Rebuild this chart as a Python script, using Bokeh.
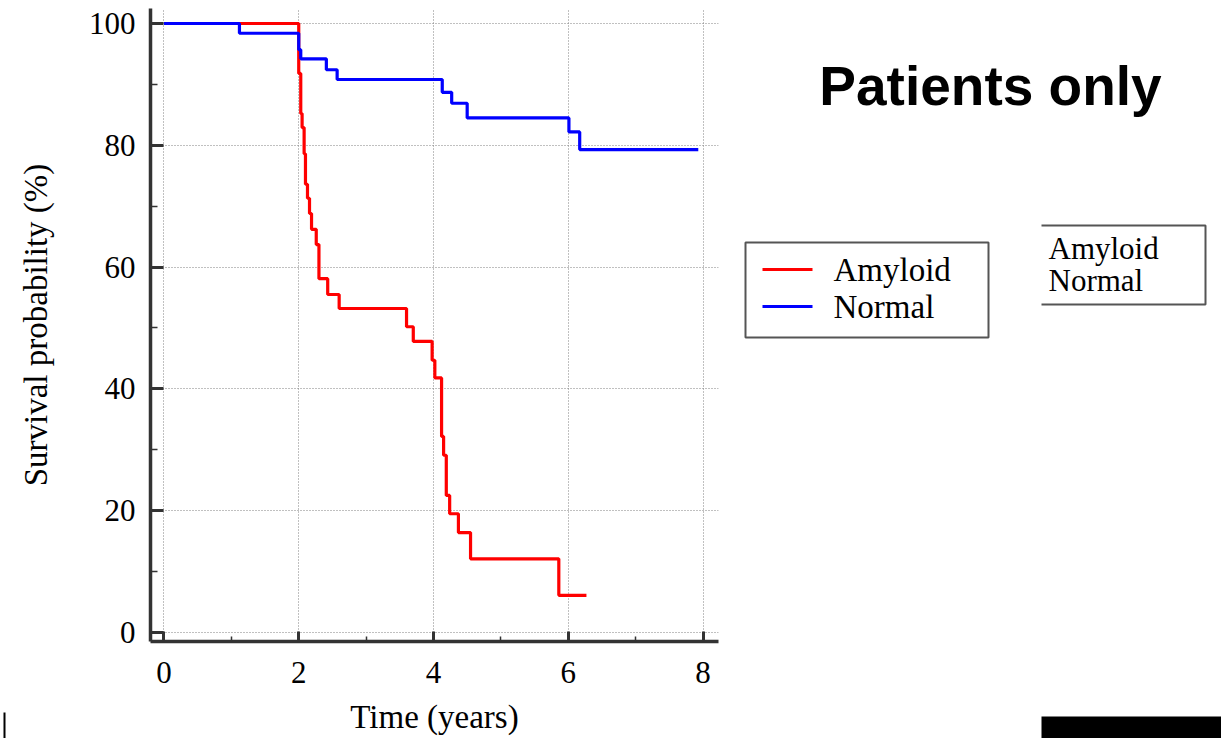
from bokeh.plotting import figure
from bokeh.layouts import row
from bokeh.models import Range1d, FixedTicker
from bokeh.core.properties import value
from bokeh.embed import file_html
from bokeh.resources import INLINE

# ---- data ----
amyloid_t = [0, 2.00, 2.03, 2.05, 2.08, 2.10, 2.13, 2.16, 2.19, 2.26, 2.30, 2.43, 2.60,
             3.60, 3.70, 3.98, 4.02, 4.12, 4.15, 4.19, 4.24, 4.37, 4.55, 5.86, 6.27]
amyloid_s = [100, 91.8, 85.2, 82.9, 78.6, 73.6, 71.3, 68.8, 66.2, 63.7, 58.1, 55.5, 53.2,
             50.2, 47.8, 44.7, 41.8, 32.2, 29.1, 22.5, 19.5, 16.4, 12.1, 6.1, 6.1]
normal_t = [0, 1.12, 2.00, 2.03, 2.41, 2.57, 4.13, 4.27, 4.50, 6.01, 6.17, 7.93]
normal_s = [100, 98.4, 95.7, 94.2, 92.4, 90.8, 88.7, 86.9, 84.5, 82.2, 79.3, 79.3]

x_ticks = [0, 2, 4, 6, 8]
x_minor = [1, 3, 5, 7]
y_ticks = [0, 20, 40, 60, 80, 100]
y_minor = [10, 30, 50, 70, 90]

series_names = ["Amyloid", "Normal"]
series_colors = ["#ff0000", "#0000ff"]
title_text = "Patients only"

SERIF = "Liberation Serif"
SANS = "Liberation Sans"


def blank_panel(width, x0, x1):
    f = figure(width=width, height=738, output_backend="svg", toolbar_location=None,
               x_range=Range1d(x0, x1), y_range=Range1d(738, 0),
               min_border=0, min_border_left=0, min_border_right=0,
               min_border_top=0, min_border_bottom=0)
    f.axis.visible = False
    f.grid.visible = False
    f.outline_line_color = None
    f.background_fill_color = "white"
    f.border_fill_color = "white"
    f.frame_align = False
    return f


# ---------------- thin strip at the far left (page pixels) ----------------
s = blank_panel(8, 0, 8)
s.quad(left=[3], right=[5], top=[712], bottom=[738], fill_color="black", line_color=None)

# ---------------- main chart ----------------
p = figure(width=722, height=738, output_backend="svg", toolbar_location=None,
           x_range=Range1d(-0.2, 8.23), y_range=Range1d(-1.48, 102.46),
           min_border_left=142, min_border_right=12, min_border_top=8, min_border_bottom=97)
p.outline_line_color = None
p.background_fill_color = "white"
p.border_fill_color = "white"
p.frame_align = False

for ax in (p.xaxis[0], p.yaxis[0]):
    ax.axis_line_color = "#333333"
    ax.axis_line_width = 3.5
    ax.major_tick_line_color = "#333333"
    ax.major_tick_line_width = 3
    ax.minor_tick_line_color = "#333333"
    ax.minor_tick_line_width = 1.5
    ax.major_tick_out = 0
    ax.minor_tick_out = 0
    ax.major_label_text_font = SERIF
    ax.major_label_text_font_size = "31px"
    ax.major_label_text_color = "black"
    ax.axis_label_text_font = SERIF
    ax.axis_label_text_font_size = "33px"
    ax.axis_label_text_font_style = "normal"
    ax.axis_label_text_color = "black"

p.xaxis.ticker = FixedTicker(ticks=x_ticks, minor_ticks=x_minor)
p.yaxis.ticker = FixedTicker(ticks=y_ticks, minor_ticks=y_minor)
p.xaxis.major_tick_in = 10
p.xaxis.minor_tick_in = 5
p.yaxis.major_tick_in = 13
p.yaxis.minor_tick_in = 7
p.xaxis.major_label_standoff = 20
p.yaxis.major_label_standoff = 15
p.xaxis.axis_label = "Time (years)"
p.yaxis.axis_label = "Survival probability (%)"
p.xaxis.axis_label_standoff = 13
p.yaxis.axis_label_standoff = 32

for g in (p.xgrid[0], p.ygrid[0]):
    g.grid_line_color = "#808080"
    g.grid_line_dash = "1 2"
    g.grid_line_width = 1

p.step(amyloid_t, amyloid_s, mode="after", line_color=series_colors[0], line_width=3.2)
p.step(normal_t, normal_s, mode="after", line_color=series_colors[1], line_width=3.2)

# ---------------- right panel (title + legends), ranges in page pixels ----------------
q = blank_panel(491, 730, 1221)

q.text(x=[990], y=[85], text=[title_text], text_font=value(SANS), text_font_style="bold",
       text_font_size="55px", text_align="center", text_baseline="middle", text_color="black")

# legend 1
q.quad(left=[745], right=[988], top=[242], bottom=[337], fill_color="white",
       line_color="#555555", line_width=2)
q.segment(x0=[762, 762], y0=[269, 306], x1=[812, 812], y1=[269, 306],
          line_color=series_colors, line_width=3)
q.text(x=[833, 833], y=[269, 306], text=series_names, text_font=value(SERIF),
       text_font_size="33px", text_baseline="middle", text_color="black")

# legend 2 (left edge missing)
q.line(x=[1041, 1205, 1205, 1041], y=[225, 225, 304, 304], line_color="#555555", line_width=2)
q.text(x=[1048, 1048], y=[248, 280], text=series_names, text_font=value(SERIF),
       text_font_size="31px", text_baseline="middle", text_color="black")

# black block, bottom right
q.quad(left=[1041], right=[1221], top=[716], bottom=[738], fill_color="black", line_color=None)

layout = row(s, p, q, spacing=0)
open("out.html", "w").write(file_html(layout, INLINE))
